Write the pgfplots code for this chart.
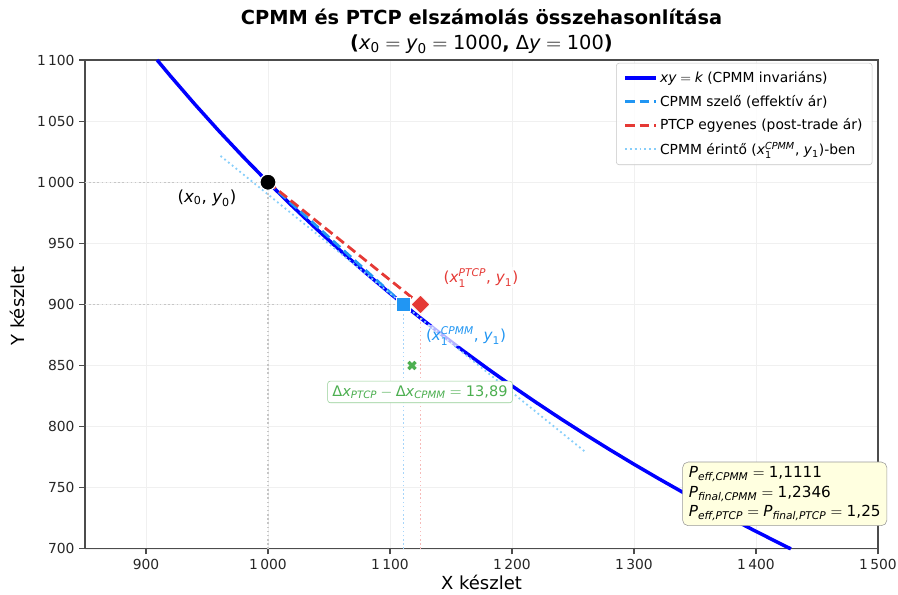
\documentclass[border=0pt]{standalone}
\usepackage{amsmath}
\usepackage{fontspec}
\setmainfont{DejaVu Sans}
\usepackage{pgfplots}
\pgfplotsset{compat=1.18}
\definecolor{cblue}{RGB}{0,0,255}
\definecolor{sblue}{RGB}{33,150,243}
\definecolor{pred}{RGB}{229,57,53}
\definecolor{cgreen}{RGB}{76,175,80}
\definecolor{tblue}{RGB}{135,206,250}
\definecolor{infofill}{RGB}{255,255,224}
\newcommand{\mi}[1]{\textit{#1}}
\newcommand{\tx}[1]{\text{#1}}
\begin{document}
\begin{tikzpicture}
\useasboundingbox (-61.2bp,-33.1bp) rectangle (585.4bp,395.2bp);
\begin{axis}[
  at={(0,0)}, anchor=south west,
  scale only axis, width=571bp, height=352bp,
  xmin=850, xmax=1500, ymin=700, ymax=1100,
  xtick={900,1000,...,1500}, ytick={700,750,...,1100},
  grid=major, grid style={gray!12, line width=0.5pt},
  axis line style={gray!60!black, line width=0.8pt},
  tick style={gray!60!black, line width=0.8pt},
  tick align=outside, xtick pos=bottom, ytick pos=left,
  major tick length=4bp,
  tick label style={font=\fontsize{10}{12}\selectfont, text=black!85},
  /pgf/number format/assume math mode=true,
  /pgf/number format/1000 sep={\,},
  clip=false,
  legend style={at={(rel axis cs:0.993,0.994)}, anchor=north east,
    font=\fontsize{10}{12}\selectfont, draw=gray!45, rounded corners=2pt,
    fill=white, fill opacity=0.85, text opacity=1, row sep=3.5bp,
    inner xsep=5bp, inner ysep=4bp},
  legend cell align=left,
  legend image code/.code={\draw[#1] (0bp,0bp) -- (22bp,0bp);},
]
% curve
\addplot[cblue, line width=2.5bp] coordinates {
(909.09,1100) (920,1086.96) (940,1063.83) (960,1041.67) (980,1020.41)
(1000,1000) (1020,980.39) (1040,961.54) (1060,943.40) (1080,925.93)
(1100,909.09) (1111.11,900) (1120,892.86) (1140,877.19) (1160,862.07)
(1180,847.46) (1200,833.33) (1220,819.67) (1240,806.45) (1260,793.65)
(1280,781.25) (1300,769.23) (1320,757.58) (1340,746.27) (1360,735.29)
(1380,724.64) (1400,714.29) (1420,704.23) (1428.57,700)};
\addlegendentry{$\mi{xy}=\mi{k}$ (CPMM invariáns)}
% secant
\addplot[sblue, line width=2bp, dash pattern=on 7bp off 3.5bp] coordinates {(1000,1000) (1111.11,900)};
\addlegendentry{CPMM szelő (effektív ár)}
% PTCP
\addplot[pred, line width=2bp, dash pattern=on 7bp off 3.5bp] coordinates {(1000,1000) (1125,900)};
\addlegendentry{PTCP egyenes (post-trade ár)}
% tangent
\addplot[tblue, line width=1.3bp, dash pattern=on 1.3bp off 2.2bp] coordinates {(961.11,1021.5) (1261.11,778.5)};
\addlegendentry{CPMM érintő ($\mi{x}_{\tx{1}}^{\mi{CPMM}}$, $\mi{y}_{\tx{1}}$)-ben}
% guide lines
\addplot[forget plot, gray!45, line width=1bp, dash pattern=on 1bp off 2bp] coordinates {(850,1000) (1000,1000)};
\addplot[forget plot, gray!45, line width=1bp, dash pattern=on 1bp off 2bp] coordinates {(1000,700) (1000,1000)};
\addplot[forget plot, gray!45, line width=1bp, dash pattern=on 1bp off 2bp] coordinates {(850,900) (1111.11,900)};
\addplot[forget plot, sblue!40, line width=1bp, dash pattern=on 1bp off 2bp] coordinates {(1111.11,700) (1111.11,900)};
\addplot[forget plot, pred!35, line width=1bp, dash pattern=on 1bp off 2bp] coordinates {(1125,700) (1125,900)};
% markers
\addplot[forget plot, only marks, mark=*, mark size=5.8bp, mark options={fill=black, draw=white, line width=0.8bp}] coordinates {(1000,1000)};
\addplot[forget plot, only marks, mark=square*, mark size=5bp, mark options={fill=sblue, draw=white, line width=0.8bp}] coordinates {(1111.11,900)};
\addplot[forget plot, only marks, mark=square*, mark size=4.9bp, mark options={fill=pred, draw=white, line width=0.8bp, rotate=45}] coordinates {(1125,900)};
\addplot[forget plot, only marks, mark=x, mark size=3.6bp, mark options={draw=cgreen, line width=2.4bp}] coordinates {(1118.06,850)};
% labels
\node[font=\fontsize{12}{14}\selectfont] at (axis cs:950,987) {($\mi{x}_{\tx{0}}$, $\mi{y}_{\tx{0}}$)};
\node[font=\fontsize{11}{13}\selectfont, text=pred, fill=white, fill opacity=0.7, text opacity=1, inner sep=1bp] at (axis cs:1174.6,921.7) {($\mi{x}_{\tx{1}}^{\mi{PTCP}}$, $\mi{y}_{\tx{1}}$)};
\node[font=\fontsize{11}{13}\selectfont, text=sblue, fill=white, fill opacity=0.7, text opacity=1, inner sep=1bp] at (axis cs:1162.3,874.2) {($\mi{x}_{\tx{1}}^{\mi{CPMM}}$, $\mi{y}_{\tx{1}}$)};
\node[font=\fontsize{10.5}{12}\selectfont, text=cgreen, draw=cgreen!60, fill=white, rounded corners=2bp, inner xsep=3.5bp, inner ysep=3bp] at (axis cs:1124.6,828.4) {$\tx{Δ}\mi{x}_{\mi{PTCP}} - \tx{Δ}\mi{x}_{\mi{CPMM}} = \tx{13,89}$};
\node[font=\fontsize{11}{14}\selectfont, align=left, draw=gray!80, fill=infofill, rounded corners=4bp, inner xsep=4.5bp, inner ysep=3.5bp, anchor=east] at (axis cs:1507.5,745) {$\mi{P}_{\mi{eff,CPMM}} = \tx{1,1111}$\\ $\mi{P}_{\mi{final,CPMM}} = \tx{1,2346}$\\ $\mi{P}_{\mi{eff,PTCP}} = \mi{P}_{\mi{final,PTCP}} = \tx{1,25}$};
% title
\node[anchor=south, align=center, inner sep=0pt, yshift=4bp, font=\fontsize{14}{18}\selectfont] at (rel axis cs:0.5,1) {\textbf{CPMM és PTCP elszámolás összehasonlítása}\\ \textbf{(}$\mi{x}_{\tx{0}} = \mi{y}_{\tx{0}} = \tx{1000}$\textbf{,} $\tx{Δ}\mi{y} = \tx{100}$\textbf{)}};
\end{axis}
\node[rotate=90, font=\fontsize{13}{15}\selectfont] at (-49bp,175bp) {Y készlet};
\node[font=\fontsize{13}{15}\selectfont] at (285.5bp,-24.5bp) {X készlet};
\end{tikzpicture}
\end{document}
